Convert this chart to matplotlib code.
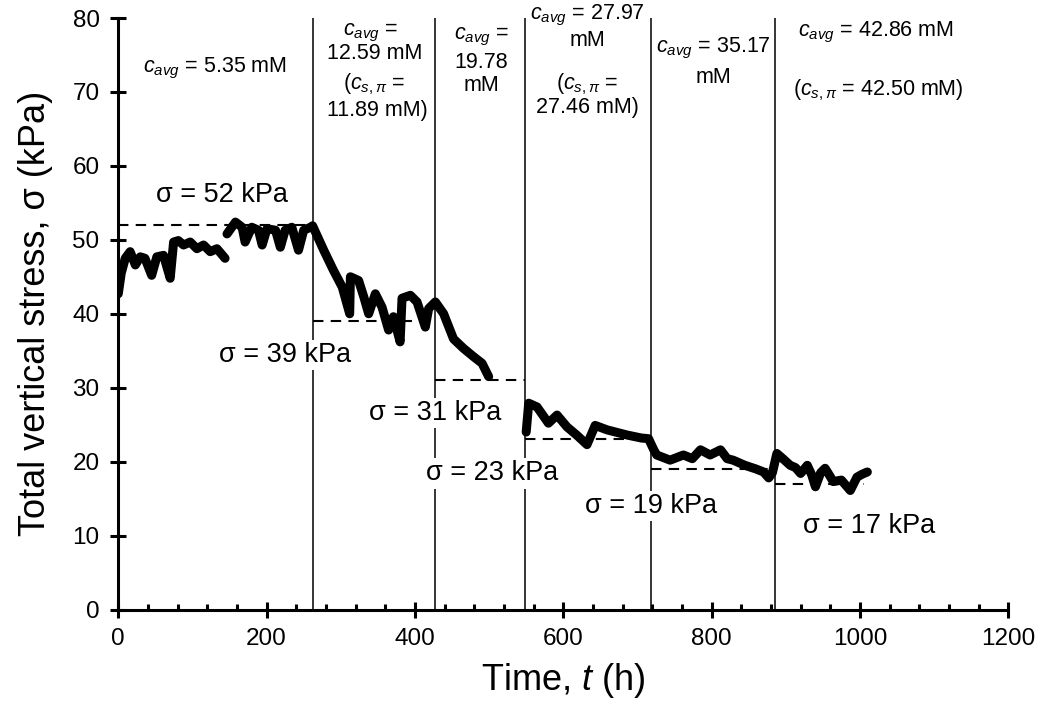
import matplotlib
matplotlib.use("Agg")
import matplotlib.pyplot as plt

plt.rcParams['font.family'] = ['Liberation Sans', 'DejaVu Sans']
plt.rcParams['mathtext.fontset'] = 'custom'
plt.rcParams['mathtext.rm'] = 'Liberation Sans'
plt.rcParams['mathtext.it'] = 'Liberation Sans:italic'
plt.rcParams['mathtext.bf'] = 'Liberation Sans:bold'

t_a = [0, 4, 9.4, 16, 23, 29.7, 36, 45, 52, 61, 70, 74.6, 81, 88, 97, 106, 115, 124, 133, 144]
s_a = [42.7, 45.5, 47.5, 48.4, 46.6, 47.7, 47.5, 45.2, 47.7, 47.9, 44.8, 49.7, 49.9, 49.3, 49.7, 48.8, 49.3, 48.4, 48.8, 47.5]

t_b = [146.6, 158, 167, 171, 180, 189, 194, 200.5, 212, 218.5, 225, 234, 243, 250, 259, 262,
       277, 290, 302, 312, 313, 324, 331, 337.6, 346.6, 355.6, 364.5, 371, 380, 382.6, 393.8,
       402.8, 414, 418.5, 427.5, 438.7, 452, 465.7, 479, 490.5, 499.4]
s_b = [50.8, 52.4, 51.7, 49.7, 51.7, 51.3, 49.3, 51.5, 51.3, 49.0, 51.3, 51.7, 48.6, 51.3, 51.7, 51.9,
       48.6, 45.9, 43.6, 40.0, 45.0, 44.5, 42.3, 40.0, 42.7, 40.9, 37.8, 39.6, 36.2, 42.1, 42.5,
       41.6, 38.2, 40.7, 41.6, 40.0, 36.6, 35.3, 34.2, 33.3, 31.5]

t_c = [550, 553.4, 564.6, 580, 591.6, 605, 618, 632, 643, 659, 686, 705, 715, 722, 726, 744, 762,
       774, 785, 798, 812, 821, 829, 845, 860, 870, 877, 882, 888, 895, 906, 913, 920, 929, 935,
       940, 947, 953, 958, 964, 975, 987, 996, 1003, 1010]
s_c = [24.0, 27.9, 27.4, 25.2, 26.3, 24.7, 23.6, 22.3, 24.9, 24.3, 23.6, 23.2, 23.1, 21.6, 20.9, 20.2, 20.9,
       20.4, 21.6, 20.9, 21.6, 20.4, 20.2, 19.5, 19.0, 18.6, 17.8, 18.5, 21.1, 20.5, 19.5, 19.2, 18.4, 19.5, 18.2,
       16.6, 18.5, 19.1, 18.3, 17.3, 17.5, 16.1, 17.9, 18.3, 18.6]

# stage boundaries (h) and the equilibrium stress of each stage (kPa)
stage_starts = [0, 262, 427, 549, 718, 886]
stage_ends = [262, 427, 549, 718, 886, 1005]
stage_sigma = [52, 39, 31, 23, 19, 17]
sigma_label_x = [140.5, 225, 427.5, 504, 718.6, 1013]
sigma_label_y = [56.0, 34.4, 26.6, 18.4, 14.0, 11.3]

conc_lines = [
    (131, 73.2, r'$c_{avg}$ = 5.35 mM'),
    (340, 78.0, r'$c_{avg}$ ='),
    (346, 75.2, '12.59 mM'),
    (345, 71.1, r'($c_{s,\pi}$ ='),
    (349, 67.5, '11.89 mM)'),
    (489.5, 77.4, r'$c_{avg}$ ='),
    (489.5, 74.0, '19.78'),
    (489.5, 70.9, 'mM'),
    (633, 80.3, r'$c_{avg}$ = 27.97'),
    (632, 76.9, 'mM'),
    (632, 71.1, r'($c_{s,\pi}$ ='),
    (632, 67.9, '27.46 mM)'),
    (802, 75.9, r'$c_{avg}$ = 35.17'),
    (802, 72.0, 'mM'),
    (1022, 78.0, r'$c_{avg}$ = 42.86 mM'),
    (1025, 70.2, r'($c_{s,\pi}$ = 42.50 mM)'),
]

fig = plt.figure(figsize=(10.43, 7.07), dpi=100)
ax = fig.add_axes([0.1134, 0.1379, 0.8533, 0.8366])

for x in stage_starts[1:]:
    ax.plot([x, x], [0, 80], color='black', lw=1.1, zorder=1)

for x0, x1, s in zip(stage_starts, stage_ends, stage_sigma):
    ax.plot([x0, x1], [s, s], color='black', lw=1.5, linestyle=(0, (5, 3.5)), zorder=2)

for tt, ss in [(t_a, s_a), (t_b, s_b), (t_c, s_c)]:
    ax.plot(tt, ss, color='black', lw=6.5, solid_joinstyle='round', solid_capstyle='round', zorder=3)

for x, y, s in zip(sigma_label_x, sigma_label_y, stage_sigma):
    ax.text(x, y, '\u03c3 = %d kPa' % s, fontsize=19.5, ha='center', va='center', zorder=5,
            bbox=dict(facecolor='white', edgecolor='none', pad=1.5))

for x, y, txt in conc_lines:
    ax.text(x, y, txt, fontsize=15.5, ha='center', va='center', zorder=5)

ax.set_xlim(0, 1200)
ax.set_ylim(0, 80)
ax.set_xticks(range(0, 1201, 200))
ax.set_xticks(range(0, 1201, 40), minor=True)
ax.set_yticks(range(0, 81, 10))

for side in ['top', 'right']:
    ax.spines[side].set_visible(False)
for side in ['left', 'bottom']:
    ax.spines[side].set_linewidth(2.2)

ax.tick_params(axis='both', which='major', direction='inout', length=11, width=2.2, labelsize=17.5)
ax.tick_params(axis='x', which='major', pad=8)
ax.tick_params(axis='y', which='major', pad=8)
ax.tick_params(axis='x', which='minor', direction='in', length=4, width=2.2)

ax.set_xlabel('Time, $t$ (h)', fontsize=26, labelpad=8)
ax.set_ylabel('Total vertical stress, \u03c3 (kPa)', fontsize=26, labelpad=14)

fig.savefig('out.png', dpi=100)
